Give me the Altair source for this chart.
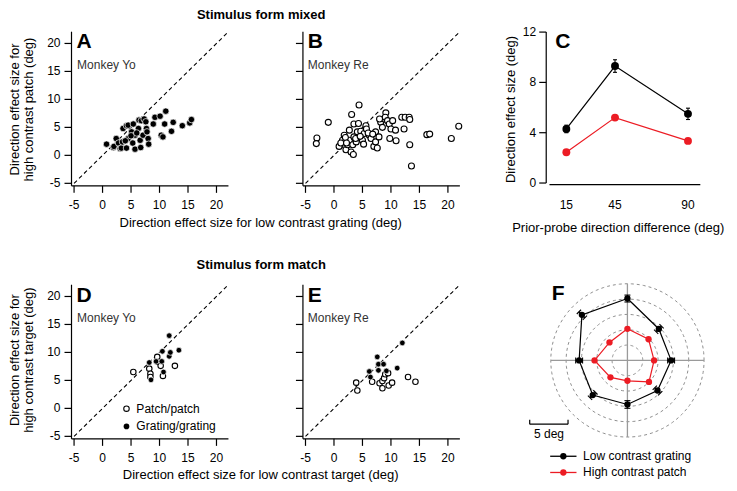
import altair as alt
import pandas as pd

# ------------------------------------------------------------------ layout
W, H = 721, 475
RX0, RX1 = 8.5, 737.0
RY0, RY1 = 2.5, 490.5
SX = (W - 0.5) / (RX1 - RX0)
SY = (H - 1.0) / (RY1 - RY0)


def px(x):
    return (x - RX0) * SX


def py(y):
    return (y - RY0) * SY


FONT = "Liberation Sans"
RED = "#ec1c24"
GREY = "#8f8f8f"
CAP = "M-1,0L1,0"

# ------------------------------------------------------------------ data
# Panel A (Monkey Yo, mixed) : low contrast grating vs high contrast patch
A_X = [0.7, 1.9, 2.0, 2.4, 2.8, 3.1, 3.3, 3.5, 3.6, 4.2, 4.2, 4.5, 4.5, 5.1, 5.3,
       5.4, 5.7, 5.7, 6.3, 6.4, 6.6, 6.7, 6.8, 7.1, 7.3, 7.6, 7.7, 8.0, 8.1, 8.9,
       9.2, 10.1, 10.3, 10.6, 11.1, 10.9, 12.1, 12.4, 14.0, 15.3, 15.6, 5.0, 6.0, 7.8, 4.0]
A_Y = [2.0, 1.4, 1.6, 3.0, 2.2, 1.2, 1.3, 2.4, 4.8, 1.3, 5.3, 3.0, 5.4, 4.2, 2.2,
       5.6, 1.1, 3.6, 4.8, 6.3, 2.7, 1.4, 6.2, 3.6, 6.5, 6.0, 4.8, 3.0, 2.0, 5.6,
       6.8, 7.0, 3.6, 3.3, 7.9, 5.6, 4.3, 5.9, 5.3, 5.8, 6.4, 3.5, 4.0, 4.2, 2.6]

# Panel B (Monkey Re, mixed)
B_X = [-3.0, -3.1, -1.0, 4.4, 3.1, 3.5, 4.3, 0.9, 1.5, 1.8, 2.1, 2.4, 2.7, 2.7, 3.0,
       3.4, 3.3, 3.5, 3.9, 4.1, 4.7, 5.0, 5.3, 5.6, 5.7, 6.2, 6.5, 7.0, 7.3, 7.3,
       7.6, 7.9, 8.2, 8.5, 8.8, 9.1, 9.0, 9.4, 9.7, 10.0, 9.8, 10.3, 10.8, 10.9, 11.9,
       12.5, 13.2, 13.3, 12.3, 13.3, 13.6, 16.3, 16.8, 20.6, 21.9, 1.2, 2.0, 3.8, 6.0, 8.0,
       5.2, 2.2, 4.6, 6.8]
B_Y = [3.1, 2.1, 5.9, 9.0, 7.3, 5.6, 5.7, 1.6, 2.7, 3.6, 1.0, 1.9, 4.5, 2.7, 0.6,
       0.15, 1.9, 3.3, 2.4, 4.2, 4.3, 2.7, 3.9, 5.3, 4.7, 3.6, 3.0, 1.6, 4.2, 2.4,
       1.3, 3.3, 5.9, 5.0, 6.5, 7.6, 6.8, 6.2, 5.6, 4.7, 3.0, 6.2, 4.5, 2.6, 6.8,
       6.8, 6.8, 6.4, 4.7, 1.9, -1.9, 3.7, 3.8, 3.0, 5.2, 2.2, 3.2, 3.0, 4.0, 6.5,
       2.0, 2.2, 3.4, 3.8]

# Panel C : effect size vs prior-probe direction difference
C_DIFF = [15, 45, 90]
C_LOW = [4.3, 9.3, 5.5]
C_LOW_ERR = [0.3, 0.5, 0.45]
C_HIGH = [2.45, 5.2, 3.35]
C_YTICKS = [0, 4, 8, 12]

# Panel D (Monkey Yo, match)
D_PATCH_X = [5.4, 8.2, 8.4, 8.4, 9.6, 9.8, 10.2, 10.6, 12.7]
D_PATCH_Y = [6.5, 7.1, 6.2, 5.6, 9.2, 8.3, 7.6, 5.8, 7.6]
D_GRAT_X = [8.2, 8.5, 9.4, 10.4, 10.5, 10.7, 11.7, 11.9, 11.7, 13.4]
D_GRAT_Y = [8.2, 5.1, 8.4, 8.4, 10.2, 6.5, 9.3, 10.0, 13.0, 10.4]

# Panel E (Monkey Re, match)
E_PATCH_X = [3.9, 4.1, 6.7, 8.0, 8.5, 8.8, 9.0, 9.5, 8.5, 9.6, 10.2, 13.0, 14.3]
E_PATCH_Y = [4.6, 3.2, 4.75, 4.5, 4.9, 5.4, 6.1, 6.3, 3.6, 4.1, 4.6, 5.6, 4.75]
E_GRAT_X = [6.2, 6.4, 7.6, 7.8, 7.8, 8.7, 9.2, 11.1, 12.0]
E_GRAT_Y = [6.6, 5.6, 9.2, 7.9, 6.8, 7.9, 6.7, 7.2, 11.7]

# Panel F : polar plot of effect size by direction
F_DIRS = [90, 45, 0, -45, -90, -135, 180, 135]
F_LOW = [8.07, 5.8, 5.7, 5.55, 5.75, 6.4, 6.3, 8.4]
F_LOW_ERR = [0.45, 0.5, 0.45, 0.5, 0.5, 0.5, 0.45, 0.55]
F_HIGH = [4.12, 3.9, 3.48, 3.98, 2.66, 3.13, 4.29, 3.31]
F_RINGS = [2, 4, 6, 8, 10]
F_SCALEBAR = 5

# texts
T_MIXED = "Stimulus form mixed"
T_MATCH = "Stimulus form match"
T_YTOP = ["Direction effect size for", "high contrast patch (deg)"]
T_YBOT = ["Direction effect size for", "high contrast target (deg)"]
T_XTOP = "Direction effect size for low contrast grating (deg)"
T_XBOT = "Direction effect size for low contrast target (deg)"
T_CY = "Direction effect size (deg)"
T_CX = "Prior-probe direction difference (deg)"
T_LETTERS = ["A", "B", "C", "D", "E", "F"]
T_MONKEYS = ["Monkey Yo", "Monkey Re"]
T_D_LEGEND = ["Patch/patch", "Grating/grating"]
T_F_LEGEND = ["Low contrast grating", "High contrast patch"]
T_SCALEBAR = "5 deg"

SC_TICKS = [-5, 0, 5, 10, 15, 20]
SC_DOMAIN = [-5.45, 22.1]
DIAG = [-5.0, 22.1]
PXD = 5.76
TICK = 7


def text(t, x, y, size=12, weight="normal", align="left", baseline="alphabetic",
         angle=0, color="black"):
    return alt.Chart(pd.DataFrame({"t": [t]})).mark_text(
        font=FONT, fontSize=size, fontWeight=weight, align=align,
        baseline=baseline, angle=angle, color=color
    ).encode(text="t:N", x=alt.value(px(x)), y=alt.value(py(y)))


def open_marks(df, size):
    return alt.Chart(df).mark_circle(fill="white", stroke="black",
                                     strokeWidth=1.1, size=size, opacity=1)


def filled_marks(df, size, edge=0.7):
    return alt.Chart(df).mark_circle(fill="black", stroke="white", strokeWidth=edge,
                                     size=size, opacity=1)


def axes_layers(xs, ys, xdom, ydom, xticks, yticks, ax_y, ax_x, ylabels=True,
                xtick_len=TICK, xlab_off=19.4, ylab_gap=4.0):
    """Axis lines, ticks and tick labels drawn through the panel's own scales."""
    AY, AX = py(ax_y), px(ax_x)
    X = alt.X("x:Q", scale=xs, axis=None)
    Y = alt.Y("y:Q", scale=ys, axis=None)
    rule = dict(color="black", strokeWidth=1.2)
    lab = dict(font=FONT, fontSize=12, color="black")
    L = [
        alt.Chart(pd.DataFrame({"x": [xdom[0]], "x2": [xdom[1]]})).mark_rule(**rule).encode(
            x=X, x2="x2:Q", y=alt.value(AY)),
        alt.Chart(pd.DataFrame({"y": [ydom[0]], "y2": [ydom[1]]})).mark_rule(**rule).encode(
            y=Y, y2="y2:Q", x=alt.value(AX)),
    ]
    xt = pd.DataFrame({"x": xticks, "lab": [str(v) for v in xticks]})
    if xtick_len:
        L.append(alt.Chart(xt).mark_rule(**rule).encode(
            x=X, y=alt.value(AY), y2=alt.value(AY + xtick_len)))
    L.append(alt.Chart(xt).mark_text(align="center", baseline="middle", **lab).encode(
        x=X, y=alt.value(py(ax_y + xlab_off)), text="lab:N"))
    yt = pd.DataFrame({"y": yticks, "lab": [str(v) for v in yticks]})
    L.append(alt.Chart(yt).mark_rule(**rule).encode(
        y=Y, x=alt.value(AX - TICK), x2=alt.value(AX)))
    if ylabels:
        L.append(alt.Chart(yt).mark_text(align="right", baseline="middle", **lab).encode(
            y=Y, x=alt.value(AX - TICK - ylab_gap), text="lab:N"))
    return L


def scatter_panel(xm5, ym5, series, ylabels):
    xr = [px(xm5 - 0.45 * PXD), px(xm5 + 27.1 * PXD)]
    yr = [py(ym5 + 0.45 * PXD), py(ym5 - 27.1 * PXD)]
    xs = alt.Scale(domain=SC_DOMAIN, range=xr, nice=False, zero=False)
    ys = alt.Scale(domain=SC_DOMAIN, range=yr, nice=False, zero=False)
    X = alt.X("x:Q", scale=xs, axis=None)
    Y = alt.Y("y:Q", scale=ys, axis=None)
    layers = axes_layers(xs, ys, SC_DOMAIN, SC_DOMAIN, SC_TICKS, SC_TICKS,
                         ym5 + 0.45 * PXD, xm5 - 0.45 * PXD, ylabels=ylabels)
    layers.append(alt.Chart(pd.DataFrame({"x": DIAG, "y": DIAG})).mark_line(
        color="black", strokeDash=[4, 3], strokeWidth=1.1).encode(x=X, y=Y))
    for xv, yv, kind, size in series:
        df = pd.DataFrame({"x": xv, "y": yv})
        base = open_marks(df, size) if kind == "open" else filled_marks(df, size)
        layers.append(base.encode(x=X, y=Y))
    return alt.layer(*layers)


# ------------------------------------------------------------------ A, B, D, E
panelA = scatter_panel(75.3, 183.0, [(A_X, A_Y, "filled", 42)], True)
panelB = scatter_panel(309.3, 183.0, [(B_X, B_Y, "open", 36)], False)
panelD = scatter_panel(75.3, 443.5, [(D_PATCH_X, D_PATCH_Y, "open", 30),
                                     (D_GRAT_X, D_GRAT_Y, "filled", 32)], True)
panelE = scatter_panel(309.3, 443.5, [(E_PATCH_X, E_PATCH_Y, "open", 30),
                                      (E_GRAT_X, E_GRAT_Y, "filled", 32)], False)

# ------------------------------------------------------------------ C
C_XDOM = [4.6, 97.6]
C_YDOM = [0, 12]
cxs = alt.Scale(domain=C_XDOM, range=[px(556.0), px(708.5)], nice=False, zero=False)
cys = alt.Scale(domain=C_YDOM, range=[py(182.7), py(27.3)], nice=False, zero=False)
dfC = pd.DataFrame({"x": C_DIFF, "low": C_LOW, "err": C_LOW_ERR, "high": C_HIGH})
cbase = alt.Chart(dfC).transform_calculate(lo="datum.low - datum.err",
                                           hi="datum.low + datum.err")
CX = alt.X("x:Q", scale=cxs, axis=None)


def CY(f):
    return alt.Y(f + ":Q", scale=cys, axis=None)


cap_style = dict(shape=CAP, filled=False, stroke="black", strokeWidth=1.1, opacity=1)
panelC = alt.layer(
    *axes_layers(cxs, cys, C_XDOM, C_YDOM, C_DIFF, C_YTICKS, 184.3, 552.7,
                 xtick_len=0, xlab_off=20.7, ylab_gap=3.0),
    cbase.mark_line(color="black", strokeWidth=1.2).encode(x=CX, y=CY("low")),
    cbase.mark_line(color=RED, strokeWidth=1.2).encode(x=CX, y=CY("high")),
    cbase.mark_rule(color="black", strokeWidth=1.1).encode(x=CX, y=CY("lo"), y2="hi:Q"),
    cbase.mark_point(size=16, **cap_style).encode(x=CX, y=CY("lo")),
    cbase.mark_point(size=16, **cap_style).encode(x=CX, y=CY("hi")),
    cbase.mark_circle(color="black", size=62, opacity=1).encode(x=CX, y=CY("low")),
    cbase.mark_circle(color=RED, size=62, opacity=1).encode(x=CX, y=CY("high")),
)

# ------------------------------------------------------------------ F
FPX = 7.82 * (SX + SY) / 2
fcx, fcy = px(634.8), py(365.3)
R = max(F_RINGS)
fxs = alt.Scale(domain=[-R, R], range=[fcx - R * FPX, fcx + R * FPX], nice=False, zero=False)
fys = alt.Scale(domain=[-R, R], range=[fcy + R * FPX, fcy - R * FPX], nice=False, zero=False)


def FX(f="x"):
    return alt.X(f + ":Q", scale=fxs, axis=None)


def FY(f="y"):
    return alt.Y(f + ":Q", scale=fys, axis=None)


ring_df = pd.DataFrame([(r, a) for r in F_RINGS for a in range(0, 361, 3)], columns=["r", "a"])
rings = alt.Chart(ring_df).transform_calculate(
    x="datum.r * cos(datum.a * PI / 180)", y="datum.r * sin(datum.a * PI / 180)"
).mark_line(stroke=GREY, strokeDash=[3, 3], strokeWidth=1).encode(
    x=FX(), y=FY(), detail="r:N", order="a:Q")

cross_df = pd.DataFrame({"x": [-R, 0], "x2": [R, 0], "y": [0, -R], "y2": [0, R]})
cross = alt.Chart(cross_df).mark_rule(color="#9a9a9a", strokeWidth=1.3).encode(
    x=FX(), x2="x2:Q", y=FY(), y2="y2:Q")

poly_df = pd.DataFrame({"dir": F_DIRS + F_DIRS[:1], "low": F_LOW + F_LOW[:1],
                        "high": F_HIGH + F_HIGH[:1], "k": list(range(len(F_DIRS) + 1))})
pbase = alt.Chart(poly_df).transform_calculate(
    lx="datum.low * cos(datum.dir * PI / 180)", ly="datum.low * sin(datum.dir * PI / 180)",
    hx="datum.high * cos(datum.dir * PI / 180)", hy="datum.high * sin(datum.dir * PI / 180)")
err_df = pd.DataFrame({"dir": F_DIRS, "low": F_LOW, "err": F_LOW_ERR})
ebase = alt.Chart(err_df).transform_calculate(
    c="cos(datum.dir * PI / 180)", s="sin(datum.dir * PI / 180)",
    ang="((90 - datum.dir) % 180 + 180) % 180"
).transform_calculate(
    x1="(datum.low - datum.err) * datum.c", y1="(datum.low - datum.err) * datum.s",
    x2="(datum.low + datum.err) * datum.c", y2="(datum.low + datum.err) * datum.s")

sb_x0 = (px(536.0) - fcx) / FPX
sb_y = (fcy - py(431.0)) / FPX
sb_tick = 4.5 / FPX
sb_df = pd.DataFrame({"x": [sb_x0, sb_x0, sb_x0 + F_SCALEBAR],
                      "x2": [sb_x0 + F_SCALEBAR, sb_x0, sb_x0 + F_SCALEBAR],
                      "y": [sb_y, sb_y, sb_y], "y2": [sb_y, sb_y + sb_tick, sb_y + sb_tick]})

panelF = alt.layer(
    rings,
    cross,
    pbase.mark_line(color="black", strokeWidth=1.2).encode(x=FX("lx"), y=FY("ly"), order="k:Q"),
    pbase.mark_line(color=RED, strokeWidth=1.2).encode(x=FX("hx"), y=FY("hy"), order="k:Q"),
    ebase.mark_rule(color="black", strokeWidth=1.1).encode(x=FX("x1"), x2="x2:Q",
                                                           y=FY("y1"), y2="y2:Q"),
    ebase.mark_point(size=36, **cap_style).encode(x=FX("x1"), y=FY("y1"),
                                                  angle=alt.Angle("ang:Q", scale=None)),
    ebase.mark_point(size=36, **cap_style).encode(x=FX("x2"), y=FY("y2"),
                                                  angle=alt.Angle("ang:Q", scale=None)),
    pbase.transform_filter("datum.k < 8").mark_circle(color="black", size=40, opacity=1).encode(
        x=FX("lx"), y=FY("ly")),
    pbase.transform_filter("datum.k < 8").mark_circle(color=RED, size=40, opacity=1).encode(
        x=FX("hx"), y=FY("hy")),
    alt.Chart(sb_df).mark_rule(color="black", strokeWidth=1.2).encode(
        x=FX(), x2="x2:Q", y=FY(), y2="y2:Q"),
)


# ------------------------------------------------------------------ legends (D, F)
def legend_symbol(kind, x, y):
    df = pd.DataFrame({"k": [kind]})
    m = open_marks(df, 30) if kind == "open" else filled_marks(df, 32, 0)
    return m.encode(x=alt.value(px(x)), y=alt.value(py(y)))


def legend_line(color, x0, x1, xd, y):
    df = pd.DataFrame({"k": [color]})
    return alt.layer(
        alt.Chart(df).mark_rule(color=color, strokeWidth=1.3).encode(
            x=alt.value(px(x0)), x2=alt.value(px(x1)), y=alt.value(py(y))),
        alt.Chart(df).mark_circle(color=color, size=40, opacity=1).encode(
            x=alt.value(px(xd)), y=alt.value(py(y))),
    )


legends = [
    legend_symbol("open", 128.3, 415.0),
    legend_symbol("filled", 128.3, 433.3),
    text(T_D_LEGEND[0], 138.3, 415.0, baseline="middle"),
    text(T_D_LEGEND[1], 138.3, 433.3, baseline="middle"),
    legend_line("black", 556.7, 583.3, 570.0, 464.0),
    legend_line(RED, 556.7, 583.3, 570.0, 480.7),
    text(T_F_LEGEND[0], 590.0, 464.0, baseline="middle"),
    text(T_F_LEGEND[1], 590.0, 480.7, baseline="middle"),
    text(T_SCALEBAR, 555.5, 445.3, align="center"),
]

# ------------------------------------------------------------------ texts
texts = [
    text(T_MIXED, 264.5, 14.0, size=13, weight="bold", align="center"),
    text(T_MATCH, 264.5, 271.7, size=13, weight="bold", align="center"),
    text(T_YTOP[0], 15.3, 107, size=13, align="center", baseline="middle", angle=270),
    text(T_YTOP[1], 30.2, 107, size=13, align="center", baseline="middle", angle=270),
    text(T_YBOT[0], 15.3, 365, size=13, align="center", baseline="middle", angle=270),
    text(T_YBOT[1], 30.2, 365, size=13, align="center", baseline="middle", angle=270),
    text(T_XTOP, 264.0, 227.5, size=13, align="center"),
    text(T_XBOT, 264.0, 487.5, size=13, align="center"),
    text(T_CY, 517.5, 107, size=13, align="center", baseline="middle", angle=270),
    text(T_CX, 625.5, 233.0, size=13, align="center"),
    text(T_LETTERS[0], 77.8, 43.3, size=21, weight="bold"),
    text(T_LETTERS[1], 311.7, 43.3, size=21, weight="bold"),
    text(T_LETTERS[2], 561.7, 43.3, size=21, weight="bold"),
    text(T_LETTERS[3], 77.8, 305.0, size=21, weight="bold"),
    text(T_LETTERS[4], 311.7, 305.0, size=21, weight="bold"),
    text(T_LETTERS[5], 558.3, 303.3, size=21, weight="bold"),
    text(T_MONKEYS[0], 78.3, 65.0, color="#333333"),
    text(T_MONKEYS[1], 311.7, 65.0, color="#333333"),
    text(T_MONKEYS[0], 78.3, 326.0, color="#333333"),
    text(T_MONKEYS[1], 311.7, 325.5, color="#333333"),
]

chart = alt.layer(
    panelA, panelB, panelC, panelD, panelE, panelF, *legends, *texts
).resolve_scale(
    x="independent", y="independent"
).properties(
    width=W, height=H, autosize=alt.AutoSizeParams(type="none"), padding=0
).configure_view(
    stroke=None
)

chart.save("out.html", embed_options={"renderer": "svg", "actions": False})
